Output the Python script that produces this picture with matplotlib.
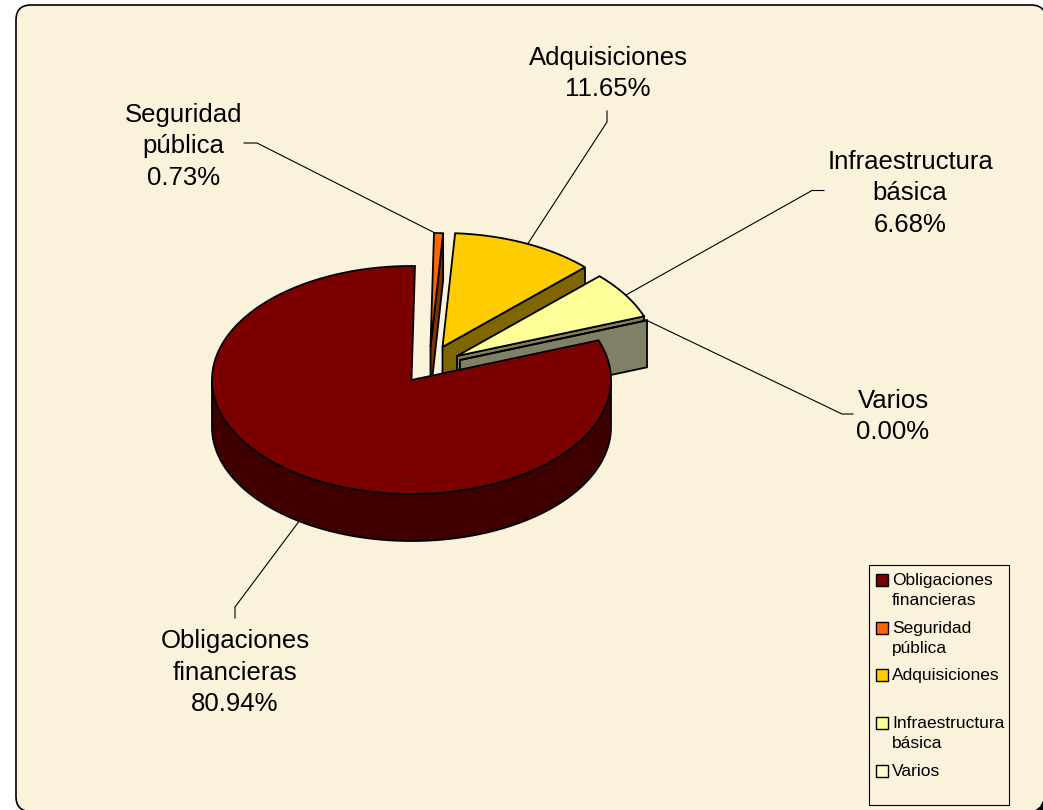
import numpy as np
import matplotlib
matplotlib.use("Agg")
import matplotlib.pyplot as plt
from matplotlib.patches import Polygon, FancyBboxPatch, Rectangle

plt.rcParams['font.family'] = ['Liberation Sans', 'DejaVu Sans']

categories = ["Obligaciones\nfinancieras", "Seguridad\npública", "Adquisiciones", "Infraestructura\nbásica", "Varios"]
values = [80.94, 0.73, 11.65, 6.68, 0.00]
top_colors = ["#7B0000", "#FF6600", "#FFCC00", "#FFFF99", "#FFFFCC"]
side_colors = ["#400000", "#803300", "#806600", "#80805A", "#808066"]

# layout (pixels, y downwards)
W, H = 1043, 810
CX, CY, RX, RY, DEPTH = 411.5, 380.0, 199.5, 114.0, 47.0
FIRST_ANGLE = 69.62
APEX_OFFSET = [(0, 0), (19, -33), (31, -33), (45.5, -24), (48.5, -20)]
LABEL_POS = [(235, 672.5), (183.5, 146.5), (608, 73.5), (910, 193.5), (893, 416.5)]
LEADERS = [
    [(235, 618), (235, 607), (300, 520)],
    [(244, 143), (257, 143), (435, 233)],
    [(607, 111), (607, 122), (527, 245)],
    [(824, 190.5), (812, 190.5), (626, 295)],
    [(853, 414), (842, 414), (646, 320)],
]
LEGEND_Y = [580, 628, 675, 723, 771]
BG = "#FBF2DC"

fig = plt.figure(figsize=(W / 100, H / 100), dpi=100)
ax = fig.add_axes([0, 0, 1, 1])
ax.set_xlim(0, W)
ax.set_ylim(H, 0)
ax.axis("off")

FL, FT, FR, FB, FRAD = 16, 5, 1046, 811.5, 15
ax.add_patch(FancyBboxPatch((FL + FRAD, FT + FRAD), FR - FL - 2 * FRAD, FB - FT - 2 * FRAD,
                            boxstyle=f"round,pad={FRAD},rounding_size={FRAD}",
                            fc=BG, ec="black", lw=1.2, zorder=0))
ax.add_patch(Polygon([(1035.5, 810), (1040, 806.5), (1043, 800.5), (1043, 810)],
                     closed=True, fc="black", ec="none", zorder=0.5))

def rim(apex, a0, a1):
    t = np.radians(np.linspace(a0, a1, max(2, int(abs(a1 - a0) * 2))))
    return np.column_stack([apex[0] + RX * np.sin(t), apex[1] - RY * np.cos(t)])

def poly(pts, fc, z, lw=1.3):
    ax.add_patch(Polygon(pts, closed=True, fc=fc, ec="black", lw=lw, joinstyle="miter", zorder=z))

for pts in LEADERS:
    xs, ys = zip(*pts)
    ax.plot(xs, ys, color="black", lw=0.8, zorder=1)

angle = FIRST_ANGLE
spans = []
for v in values:
    spans.append((angle, angle + v * 3.6))
    angle += v * 3.6

# painter's order: back slices first, main slice last
for z, i in enumerate([1, 2, 3, 4]):
    a0, a1 = spans[i]
    a0, a1 = a0 % 360, (a0 % 360) + (a1 - a0)
    apex = (CX + APEX_OFFSET[i][0], CY + APEX_OFFSET[i][1])
    end = rim(apex, a1, a1)[0]
    face = [apex, end, (end[0], end[1] + DEPTH), (apex[0], apex[1] + DEPTH)]
    poly(face, side_colors[i], 2 + 2 * z)
    poly(np.vstack([[apex], rim(apex, a0, a1)]), top_colors[i], 3 + 2 * z)

# main slice
a0, a1 = spans[0]
apex = (CX, CY)
low = rim(apex, 90, 270)
poly(np.vstack([low, (low + [0, DEPTH])[::-1]]), side_colors[0], 20)
poly(np.vstack([[apex], rim(apex, a0, a1)]), top_colors[0], 21)

# data labels
for name, v, (x, y) in zip(categories, values, LABEL_POS):
    ax.text(x, y, f"{name}\n{v:.2f}%", ha="center", va="center", fontsize=18.5,
            linespacing=1.37, color="black", zorder=30)

# legend
ax.add_patch(Rectangle((869, 565), 140, 240, fc="none", ec="black", lw=0.8, zorder=25))
for name, col, y in zip(categories, top_colors, LEGEND_Y):
    ax.add_patch(Rectangle((876, y - 6), 11.5, 11.5, fc=col, ec="black", lw=1.0, zorder=26))
    ax.text(892, y - 7, name, ha="left", va="top", fontsize=12.5, linespacing=1.38,
            color="black", zorder=26)

fig.savefig("out.png", dpi=100, facecolor="white")
